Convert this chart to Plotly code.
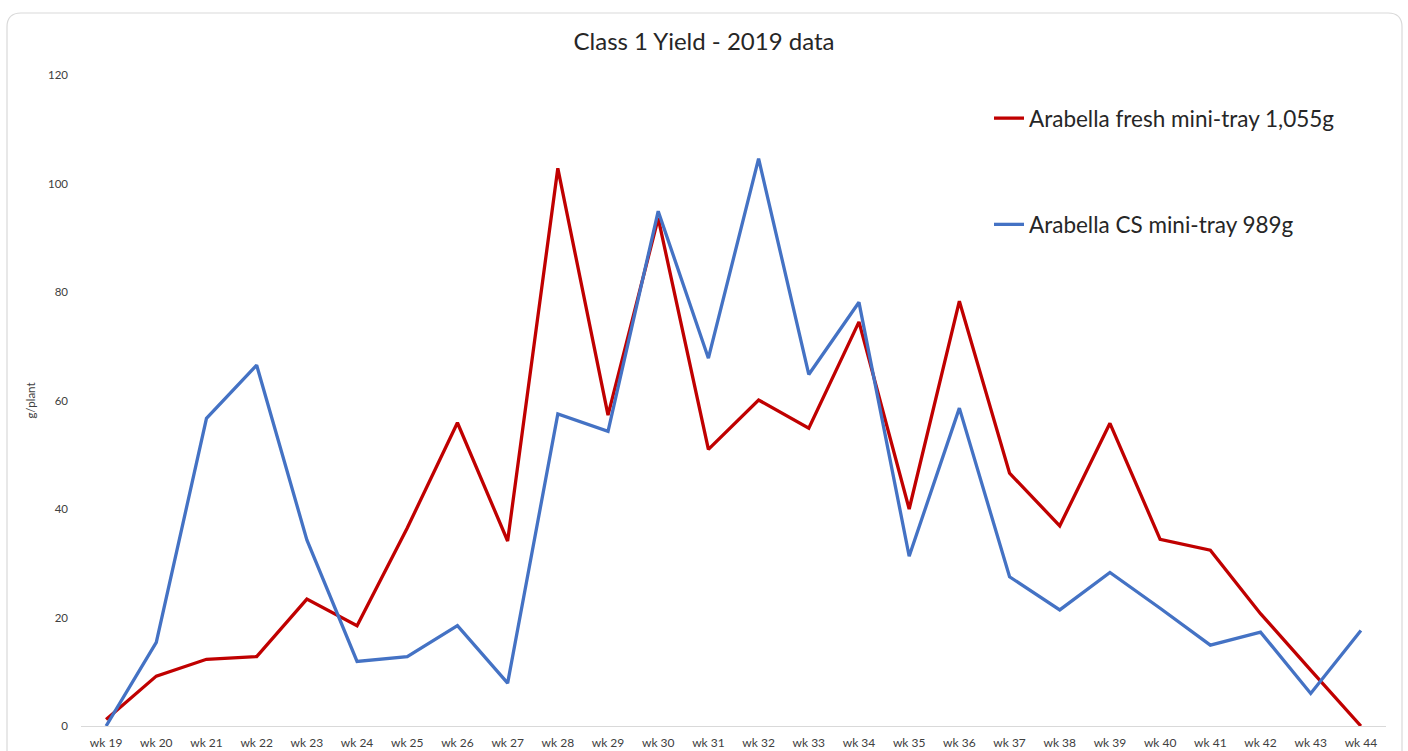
import plotly.graph_objects as go

weeks = [f"wk {i}" for i in range(19, 45)]
fresh = [1.2, 9.2, 12.3, 12.8, 23.4, 18.5, 36.5, 55.9, 34.1, 102.8, 57.3, 93.6, 51.0, 60.1,
         54.9, 74.5, 40.0, 78.3, 46.6, 36.9, 55.8, 34.4, 32.4, 20.7, 10.3, 0.0]
cs = [0.0, 15.4, 56.7, 66.5, 34.3, 11.9, 12.8, 18.5, 7.9, 57.5, 54.3, 94.9, 67.8, 104.6,
      64.8, 78.1, 31.3, 58.6, 27.5, 21.4, 28.3, 21.7, 14.9, 17.3, 6.0, 17.6]
y_ticks = [0, 20, 40, 60, 80, 100, 120]

W, H = 1408, 751
L, R, T, B = 81, 22, 75, 25
FONT = "Lato"

fig = go.Figure()
fig.add_trace(go.Scatter(x=weeks, y=fresh, mode="lines", name="Arabella fresh mini-tray 1,055g",
                         line=dict(color="#C00000", width=3.3), legendgroup="a"))
fig.add_trace(go.Scatter(x=weeks, y=cs, mode="lines", name="Arabella CS mini-tray 989g",
                         line=dict(color="#4472C4", width=3.3), legendgroup="b"))

pw, ph = W - L - R, H - T - B
def px(x):
    return (x - L) / pw
def py(y):
    return (H - B - y) / ph

x0, x1, y0, y1, r = 7, 1402, 13, 760, 14
path = (f"M {px(x0)},{py(y1)} L {px(x0)},{py(y0 + r)} Q {px(x0)},{py(y0)} {px(x0 + r)},{py(y0)} "
        f"L {px(x1 - r)},{py(y0)} Q {px(x1)},{py(y0)} {px(x1)},{py(y0 + r)} L {px(x1)},{py(y1)}")
fig.add_shape(type="path", path=path, xref="paper", yref="paper",
              line=dict(color="#D9D9D9", width=1.2), layer="below")

fig.update_layout(
    width=W, height=H,
    margin=dict(l=L, r=R, t=T, b=B, autoexpand=False),
    paper_bgcolor="white", plot_bgcolor="white",
    font=dict(family=FONT, color="#404040"),
    title=dict(text="Class 1 Yield - 2019 data", x=0.5, xanchor="center", y=1 - 42 / H,
               yanchor="middle", font=dict(size=24, color="#262626", family=FONT)),
    showlegend=True,
    legend=dict(x=px(989), y=py(97), xanchor="left", yanchor="top",
                font=dict(size=22.5, color="#262626", family=FONT),
                tracegroupgap=74, bgcolor="rgba(0,0,0,0)", itemwidth=30),
    xaxis=dict(type="category", range=[-0.5, len(weeks) - 0.5], showgrid=False,
               showline=True, linecolor="#D9D9D9", linewidth=1, ticks="",
               tickfont=dict(size=12, color="#404040"), zeroline=False,
               ticklabelstandoff=6),
    yaxis=dict(range=[0, 120], tickvals=y_ticks, showgrid=False, showline=False,
               zeroline=False, ticks="", tickfont=dict(size=11.5, color="#404040"),
               ticklabelstandoff=12,
               title=dict(text="g/plant", font=dict(size=11.5, color="#404040"), standoff=9)),
)

fig.write_html("out.html", config={"displayModeBar": False},
               post_script="document.body.style.margin='0px';")
